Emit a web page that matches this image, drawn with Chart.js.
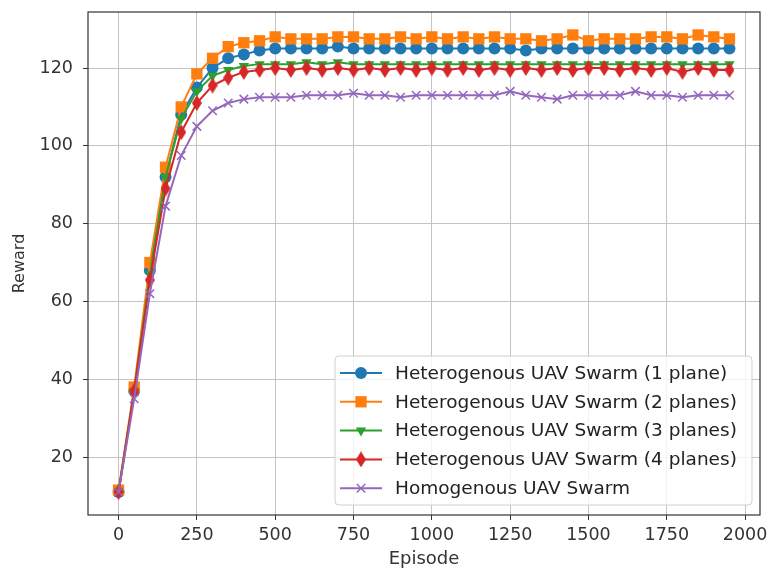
<!DOCTYPE html>
<html>
<head>
<meta charset="utf-8">
<script src="https://cdn.jsdelivr.net/npm/chart.js@4"></script>
<style>
  html, body { margin: 0; padding: 0; background: #fff; }
  #wrap { width: 772px; height: 570px; }
</style>
</head>
<body>
<div id="wrap"><canvas id="myChart"></canvas></div>
<script>
const episodes = [0, 50, 100, 150, 200, 250, 300, 350, 400, 450, 500, 550, 600, 650, 700, 750, 800, 850, 900, 950,
  1000, 1050, 1100, 1150, 1200, 1250, 1300, 1350, 1400, 1450, 1500, 1550, 1600, 1650, 1700, 1750, 1800, 1850, 1900, 1950];

const plane1 = [11, 37, 68, 92, 108, 115, 120, 122.5, 123.5, 124.5, 125, 125, 125, 125, 125.5, 125, 125, 125, 125, 125,
  125, 125, 125, 125, 125, 125, 124.5, 125, 125, 125, 125, 125, 125, 125, 125, 125, 125, 125, 125, 125];
const plane2 = [11.5, 38, 70, 94.5, 110, 118.5, 122.5, 125.5, 126.5, 127, 128, 127.5, 127.5, 127.5, 128, 128, 127.5, 127.5, 128, 127.5,
  128, 127.5, 128, 127.5, 128, 127.5, 127.5, 127, 127.5, 128.5, 127, 127.5, 127.5, 127.5, 128, 128, 127.5, 128.5, 128, 127.5];
const plane3 = [11, 37, 67, 92, 107, 114, 118, 119.5, 120.5, 121, 121, 121, 121.5, 121, 121.5, 121, 121, 121, 121, 121,
  121, 121, 121, 121, 121, 121, 121, 121, 121, 121, 121, 121, 121, 121, 121, 121, 121, 121, 121, 121];
const plane4 = [11, 37, 65.5, 89, 103.5, 111, 115.5, 117.5, 119, 119.5, 120, 119.5, 120, 119.5, 120, 119.5, 120, 119.5, 120, 119.5,
  120, 119.5, 120, 119.5, 120, 119.5, 120, 119.5, 120, 119.5, 120, 120, 119.5, 120, 119.5, 120, 119, 120, 119.5, 119.5];
const homog = [11, 35, 62, 84.5, 97.5, 105, 109, 111, 112, 112.5, 112.5, 112.5, 113, 113, 113, 113.5, 113, 113, 112.5, 113,
  113, 113, 113, 113, 113, 114, 113, 112.5, 112, 113, 113, 113, 113, 114, 113, 113, 112.5, 113, 113, 113];

const seriesNames = [
  "Heterogenous UAV Swarm (1 plane)",
  "Heterogenous UAV Swarm (2 planes)",
  "Heterogenous UAV Swarm (3 planes)",
  "Heterogenous UAV Swarm (4 planes)",
  "Homogenous UAV Swarm"
];
const xTicks = [0, 250, 500, 750, 1000, 1250, 1500, 1750, 2000];
const yTicks = [20, 40, 60, 80, 100, 120];

const colors = ["#1f77b4", "#ff7f0e", "#2ca02c", "#d62728", "#9467bd"];
const FONT = "DejaVu Sans";

// thin diamond (matplotlib 'd')
function thinDiamond(color, w, h) {
  const c = document.createElement("canvas");
  c.width = w; c.height = h;
  const g = c.getContext("2d");
  g.fillStyle = color;
  g.beginPath();
  g.moveTo(w / 2, 0);
  g.lineTo(w, h / 2);
  g.lineTo(w / 2, h);
  g.lineTo(0, h / 2);
  g.closePath();
  g.fill();
  return c;
}

const styles = [
  { pointStyle: "circle", radius: 6, rotation: 0 },
  { pointStyle: "rect", radius: 8, rotation: 0 },
  { pointStyle: "triangle", radius: 6, rotation: 180 },
  { pointStyle: thinDiamond(colors[3], 10, 16), radius: 6, rotation: 0 },
  { pointStyle: "crossRot", radius: 6, rotation: 0 }
];

const allValues = [plane1, plane2, plane3, plane4, homog];

const datasets = allValues.map((vals, i) => ({
  label: seriesNames[i],
  data: episodes.map((e, k) => ({ x: e, y: vals[k] })),
  borderColor: colors[i],
  backgroundColor: colors[i],
  borderWidth: 2,
  pointStyle: styles[i].pointStyle,
  pointRadius: styles[i].radius,
  pointRotation: styles[i].rotation,
  pointBorderWidth: i === 4 ? 1.5 : 0,
  pointBorderColor: colors[i],
  order: 5 - i
}));

// frame + legend inside the plot
const frameLegend = {
  id: "frameLegend",
  afterDraw(chart) {
    const { ctx, chartArea: a } = chart;
    ctx.save();
    ctx.strokeStyle = "#333";
    ctx.lineWidth = 1.2;
    ctx.strokeRect(a.left, a.top, a.right - a.left, a.bottom - a.top);

    const bx = 335, by = 356, bw = 417, bh = 149;
    ctx.fillStyle = "rgba(255,255,255,0.8)";
    ctx.strokeStyle = "#d0d0d0";
    ctx.lineWidth = 1;
    ctx.beginPath();
    ctx.roundRect(bx, by, bw, bh, 4);
    ctx.fill();
    ctx.stroke();

    ctx.font = "18.5px '" + FONT + "'";
    ctx.textBaseline = "middle";
    seriesNames.forEach((name, i) => {
      const cy = by + 17 + i * 28.8;
      ctx.strokeStyle = colors[i];
      ctx.fillStyle = colors[i];
      ctx.lineWidth = 2;
      ctx.beginPath();
      ctx.moveTo(bx + 5, cy);
      ctx.lineTo(bx + 47, cy);
      ctx.stroke();
      ctx.lineWidth = 1.5;
      Chart.helpers.drawPoint(ctx, {
        pointStyle: styles[i].pointStyle,
        radius: styles[i].radius,
        rotation: styles[i].rotation,
        borderWidth: i === 4 ? 1.5 : 0
      }, bx + 26, cy);
      ctx.fillStyle = "#222";
      ctx.fillText(name, bx + 60, cy + 1);
    });
    ctx.restore();
  }
};

const ctx1 = document.getElementById("myChart").getContext("2d");

new Chart(ctx1, {
  type: "line",
  data: { datasets: datasets },
  options: {
    responsive: true,
    maintainAspectRatio: false,
    animation: false,
    layout: { padding: { left: 0, right: 12, top: 12, bottom: 0 } },
    plugins: { legend: { display: false }, tooltip: { enabled: false } },
    scales: {
      x: {
        type: "linear",
        min: -97.5,
        max: 2047.5,
        afterBuildTicks: s => { s.ticks = xTicks.map(v => ({ value: v })); },
        afterFit: s => { s.height = 55; s.paddingLeft = 0; s.paddingRight = 0; },
        grid: { color: "#c4c4c4", lineWidth: 1, tickColor: "#333", tickLength: 5 },
        border: { display: false },
        ticks: { color: "#333", font: { family: FONT, size: 17.5 }, padding: 5, maxRotation: 0, callback: v => String(v) },
        title: { display: true, text: "Episode", color: "#333", font: { family: FONT, size: 18 }, padding: { top: 1, bottom: 0 } }
      },
      y: {
        min: 5.1,
        max: 134.4,
        afterBuildTicks: s => { s.ticks = yTicks.map(v => ({ value: v })); },
        afterFit: s => { s.width = 88; s.paddingTop = 0; s.paddingBottom = 0; },
        grid: { color: "#c4c4c4", lineWidth: 1, tickColor: "#333", tickLength: 5 },
        border: { display: false },
        ticks: { color: "#333", font: { family: FONT, size: 17.5 }, padding: 10, callback: v => String(v) },
        title: { display: true, text: "Reward", color: "#333", font: { family: FONT, size: 16 }, padding: { top: 10, bottom: 0 } }
      }
    }
  },
  plugins: [frameLegend]
});
</script>
</body>
</html>
